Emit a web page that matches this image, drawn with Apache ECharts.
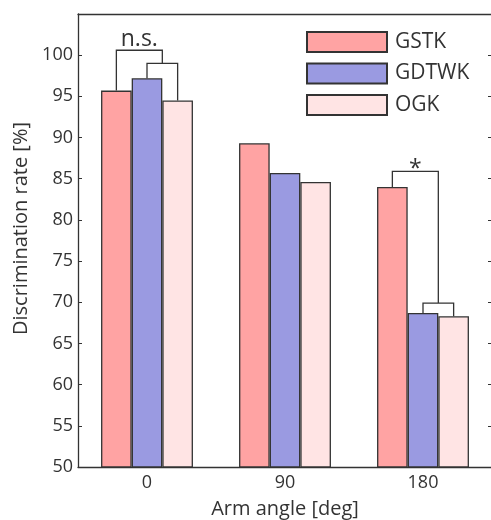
<!DOCTYPE html>
<html>
<head>
<meta charset="utf-8">
<script src="https://cdn.jsdelivr.net/npm/echarts@6/dist/echarts.min.js"></script>
<style>
  html, body { margin: 0; padding: 0; background: #fff; }
  #chart { width: 491px; height: 520px; }
</style>
</head>
<body>
<div id="chart"></div>
<script>
// categories (arm angle, deg)
const categories = ['0', '90', '180'];
// discrimination rate [%] per method
const gstk = [95.7, 89.3, 84.0];
const gdtwk = [97.2, 85.7, 68.7];
const ogk = [94.5, 84.6, 68.3];
// significance brackets: [category, left slot, right slot, top, left foot, right foot, label]
const brackets = [
  [0, 1, 2, 99.0, 97.2, 94.5, ''],
  [0, 0, 1.5, 100.6, 95.7, 99.0, 'n.s.'],
  [2, 1, 2, 69.9, 68.7, 68.3, ''],
  [2, 0, 1.5, 85.9, 84.0, 69.9, '*']
];

const FONT = 'Open Sans';
const INK = '#333';
const BAR_FRAC = 0.222; // bar width as part of the category band
const LABEL_DROP = { 'n.s.': 3, '*': 12 }; // glyphs sit differently above the bracket

const chart = echarts.init(document.getElementById('chart'));

//括号绘制
function renderBracket(params, api) {
  const cat = api.value(0);
  const band = api.size([1, 0])[0];
  const barW = band * BAR_FRAC;
  const cx = api.coord([cat, 0])[0];
  const xl = cx + (api.value(1) - 1) * barW;
  const xr = cx + (api.value(2) - 1) * barW;
  const yt = api.coord([cat, api.value(3)])[1];
  const yl = api.coord([cat, api.value(4)])[1];
  const yr = api.coord([cat, api.value(5)])[1];
  const children = [{
    type: 'polyline',
    shape: { points: [[xl, yl], [xl, yt], [xr, yt], [xr, yr]] },
    style: { fill: null, stroke: INK, lineWidth: 1.3 }
  }];
  const label = brackets[params.dataIndex][6];
  if (label) {
    children.push({
      type: 'text',
      x: (xl + xr) / 2,
      y: yt - 2 + (LABEL_DROP[label] || 0),
      style: {
        text: label,
        font: '23px "' + FONT + '"',
        fill: INK,
        align: 'center',
        verticalAlign: 'bottom'
      }
    });
  }
  return { type: 'group', children };
}

const barStyle = color => ({ color, borderColor: INK, borderWidth: 1.3 });

const option = {
  backgroundColor: '#ffffff',
  animation: false,
  textStyle: { fontFamily: FONT, color: INK },
  grid: { left: 78, top: 14, width: 414, height: 453, outerBoundsMode: 'none' },
  legend: {
    data: ['GSTK', 'GDTWK', 'OGK'],
    orient: 'vertical',
    left: 306,
    top: 31,
    padding: 0,
    itemWidth: 80,
    itemHeight: 20,
    itemGap: 9.5,
    icon: 'rect',
    textStyle: { fontSize: 21, color: INK, fontFamily: FONT, padding: [0, 0, 0, 3] }
  },
  xAxis: [{
    type: 'category',
    data: categories,
    position: 'bottom',
    axisLine: { lineStyle: { color: INK, width: 1.3 } },
    axisTick: { show: false },
    axisLabel: { fontSize: 18, color: INK, margin: 7 },
    name: 'Arm angle [deg]',
    nameLocation: 'middle',
    nameGap: 32,
    nameTextStyle: { fontSize: 20, color: INK }
  }, {
    type: 'category',
    data: categories,
    position: 'top',
    axisLine: { lineStyle: { color: INK, width: 1.3 } },
    axisTick: { inside: true, length: 4, alignWithLabel: true, lineStyle: { color: INK } },
    axisLabel: { show: false }
  }],
  yAxis: [{
    type: 'value',
    min: 50,
    max: 105,
    interval: 5,
    position: 'left',
    splitLine: { show: false },
    axisLine: { show: true, lineStyle: { color: INK, width: 1.3 } },
    axisTick: { show: true, inside: true, length: 4, lineStyle: { color: INK } },
    axisLabel: {
      fontSize: 18, color: INK, margin: 5,
      formatter: v => (v > 100 ? '' : v)
    },
    name: 'Discrimination rate [%]',
    nameLocation: 'middle',
    nameGap: 44,
    nameTextStyle: { fontSize: 20, color: INK, padding: [0, 0, 0, 24] }
  }, {
    type: 'value',
    min: 50,
    max: 105,
    interval: 5,
    position: 'right',
    splitLine: { show: false },
    axisLine: { show: true, lineStyle: { color: INK, width: 1.3 } },
    axisTick: { show: true, inside: true, length: 4, lineStyle: { color: INK } },
    axisLabel: { show: false }
  }],
  series: [{
    name: 'GSTK',
    type: 'bar',
    data: gstk,
    barWidth: (BAR_FRAC * 100) + '%',
    barGap: '0%',
    itemStyle: barStyle('#ffa3a3')
  }, {
    name: 'GDTWK',
    type: 'bar',
    data: gdtwk,
    barWidth: (BAR_FRAC * 100) + '%',
    barGap: '0%',
    itemStyle: barStyle('#9a9ae1')
  }, {
    name: 'OGK',
    type: 'bar',
    data: ogk,
    barWidth: (BAR_FRAC * 100) + '%',
    barGap: '0%',
    itemStyle: barStyle('#ffe4e4')
  }, {
    type: 'custom',
    renderItem: renderBracket,
    data: brackets.map(b => b.slice(0, 6)),
    encode: { x: 0, y: [3, 4, 5] },
    clip: false,
    z: 5
  }]
};

chart.setOption(option);
</script>
</body>
</html>
